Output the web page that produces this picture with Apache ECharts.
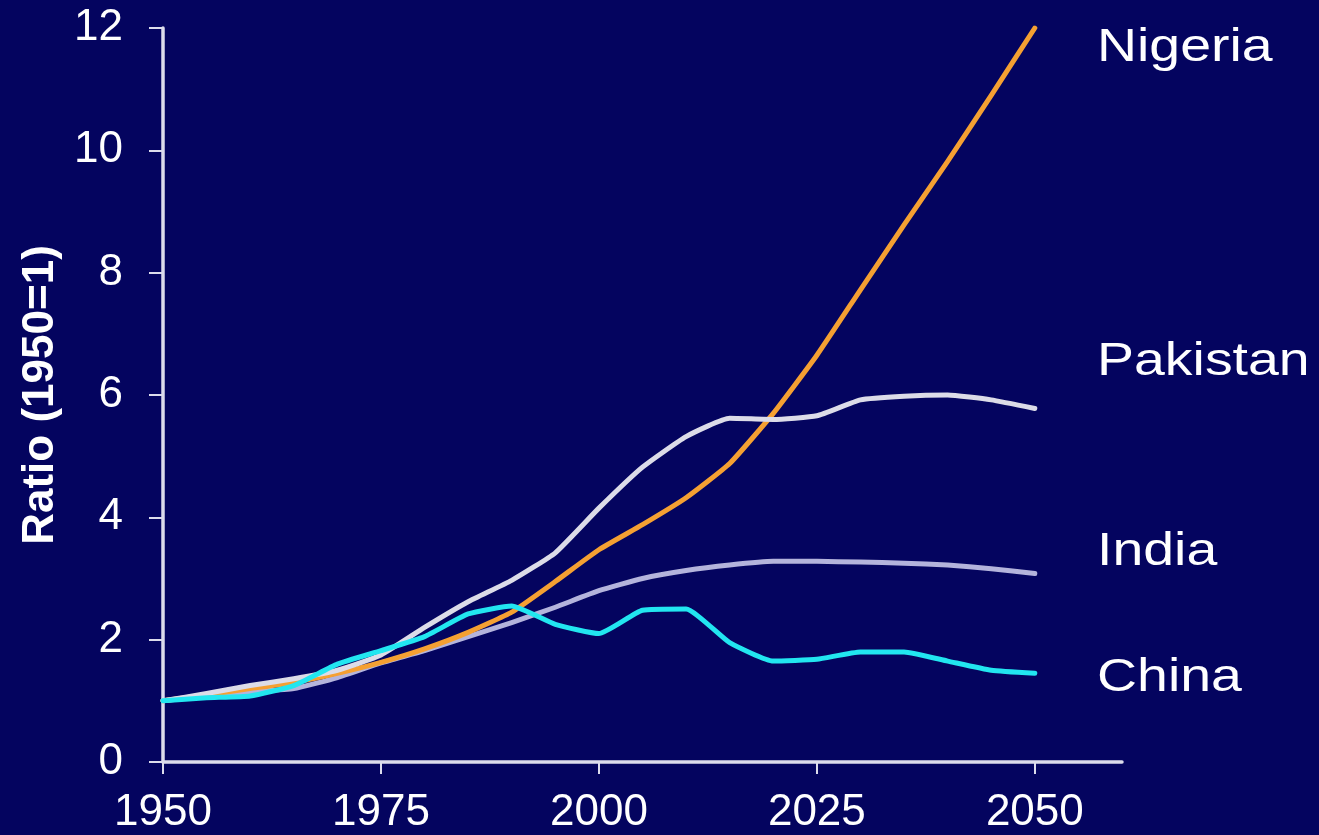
<!DOCTYPE html>
<html>
<head>
<meta charset="utf-8">
<script src="https://cdn.jsdelivr.net/npm/echarts@6/dist/echarts.min.js"></script>
<style>
  html, body { margin: 0; padding: 0; background: #04045f; }
  #chart { width: 1319px; height: 835px; }
</style>
</head>
<body>
<div id="chart"></div>
<script>
// Population growth relative to 1950, by country
const years = [1950, 1955, 1960, 1965, 1970, 1975, 1980, 1985, 1990, 1995, 2000,
               2005, 2010, 2015, 2020, 2025, 2030, 2035, 2040, 2045, 2050];
const nigeria  = [1.0, 1.1, 1.2, 1.3, 1.45, 1.63, 1.85, 2.12, 2.45, 2.95, 3.47,
                  3.88, 4.32, 4.88, 5.7, 6.65, 7.72, 8.78, 9.82, 10.9, 12.0];
const pakistan = [1.0, 1.12, 1.25, 1.36, 1.5, 1.75, 2.2, 2.62, 2.97, 3.42, 4.15,
                  4.82, 5.32, 5.62, 5.6, 5.66, 5.92, 5.98, 6.0, 5.92, 5.78];
const india    = [1.0, 1.08, 1.15, 1.2, 1.38, 1.62, 1.82, 2.05, 2.28, 2.53, 2.8,
                  3.0, 3.13, 3.22, 3.28, 3.28, 3.27, 3.25, 3.22, 3.16, 3.08];
const china    = [1.0, 1.05, 1.08, 1.25, 1.6, 1.82, 2.05, 2.42, 2.55, 2.25, 2.1,
                  2.48, 2.5, 1.95, 1.65, 1.68, 1.8, 1.8, 1.65, 1.5, 1.45];
const xTicks = [1950, 1975, 2000, 2025, 2050];
const yTitle = 'Ratio (1950=1)';
const countryNames = ['Nigeria', 'Pakistan', 'India', 'China'];

const FONT = '"Liberation Sans", Arial, sans-serif';
const AXIS = '#dcdcec';

const pairs = arr => years.map((y, i) => [y, arr[i]]);

function lineSeries(name, arr, color, z) {
  return {
    name, type: 'line', data: pairs(arr), z,
    showSymbol: false, smooth: 0.15,
    lineStyle: { color, width: 5, join: 'round', cap: 'round' }
  };
}

const chart = echarts.init(document.getElementById('chart'));

// name label placement (left x, vertical centre y)
const labelPos = { Nigeria: [1097, 48], Pakistan: [1097, 362], India: [1097, 552], China: [1097, 678] };

chart.setOption({
  backgroundColor: '#04045f',
  animation: false,
  grid: { left: 163, right: 197, top: 28, bottom: 73, containLabel: false },
  xAxis: {
    type: 'value', min: 1950, max: 2060,
    splitLine: { show: false },
    axisLine: { lineStyle: { color: AXIS, width: 3.5 } },
    axisTick: { show: true, length: 12, lineStyle: { color: AXIS, width: 2 }, customValues: xTicks },
    axisLabel: {
      color: '#ffffff', fontSize: 44, fontFamily: FONT, margin: 29,
      customValues: xTicks, formatter: v => String(v)
    }
  },
  yAxis: {
    type: 'value', min: 0, max: 12, interval: 2,
    name: yTitle, nameLocation: 'middle', nameGap: 100, nameRotate: 90,
    nameTextStyle: { color: '#ffffff', fontSize: 44, fontWeight: 'bold', fontFamily: FONT },
    splitLine: { show: false },
    axisLine: { show: true, lineStyle: { color: AXIS, width: 3.5 } },
    axisTick: { show: true, length: 14, lineStyle: { color: AXIS, width: 2 } },
    axisLabel: { color: '#ffffff', fontSize: 44, fontFamily: FONT, margin: 40 }
  },
  series: [
    lineSeries('India', india, '#b4b4dc', 2),
    lineSeries('Nigeria', nigeria, '#f5a032', 3),
    lineSeries('Pakistan', pakistan, '#dcdce8', 4),
    lineSeries('China', china, '#22e6f0', 5)
  ],
  graphic: countryNames.map(n => ({
    type: 'text',
    x: labelPos[n][0], y: labelPos[n][1],
    scaleX: 1.18,
    style: {
      text: n, fill: '#ffffff', fontSize: 47, fontFamily: FONT,
      textAlign: 'left', textVerticalAlign: 'middle'
    }
  }))
});
</script>
</body>
</html>
